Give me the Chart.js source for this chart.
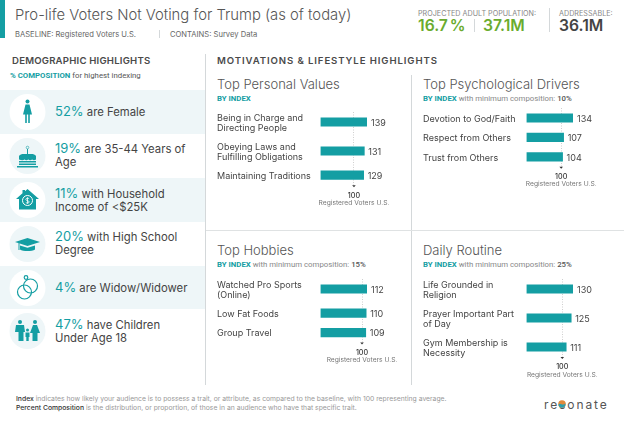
<!DOCTYPE html>
<html>
<head>
<meta charset="utf-8">
<script src="https://cdn.jsdelivr.net/npm/chart.js@4/dist/chart.umd.js"></script>
<style>
  html, body { margin: 0; padding: 0; background: #fff; }
  #page { position: relative; width: 624px; height: 425px; overflow: hidden; font-family: Inter, sans-serif; color: #444; }
  #page div, #page canvas, #page svg { position: absolute; }
  #page div { white-space: nowrap; }
  .line { background: #d4d8da; }
  .h2 { font-size: 9.6px; font-weight: 600; color: #4a4a4a; }
  .title { font-size: 13px; font-weight: 300; color: #555; }
  .sub { font: 7.8px Roboto, sans-serif; color: #888; }
  .sub b { color: #149ea3; font-weight: 700; }
  .sub i { font-style: normal; font-weight: 500; color: #555; }
  .pop { font-size: 7.2px; color: #888; }
  .big { font-size: 15.7px; font-weight: 600; word-spacing: -2px; }
  .row { font-size: 11.3px; line-height: 13px; color: #444; }
  .row span { font-size: 13px; color: #149ea3; }
  .foot { font-size: 6.8px; color: #999; }
  .foot b { color: #333; font-weight: 500; }
</style>
</head>
<body>
<div id="page">
  <div style="left:0;top:0;width:5px;height:38px;background:#149ea3"></div>
  <div style="left:15px;top:6px;font-size:14.8px;font-weight:300;color:#555">Pro-life Voters Not Voting for Trump (as of today)</div>
  <div style="left:15px;top:30px;font-size:7.6px;color:#666">BASELINE: Registered Voters U.S.</div>
  <div class="line" style="left:159px;top:30px;width:1px;height:8px"></div>
  <div style="left:170px;top:30px;font-size:7.6px;color:#666">CONTAINS: Survey Data</div>

  <div class="pop" style="left:418px;top:9px">PROJECTED ADULT POPULATION:</div>
  <div class="big" style="left:418px;top:16px;color:#6aab2e">16.7 %</div>
  <div class="line" style="left:474px;top:19px;width:1px;height:13px"></div>
  <div class="big" style="left:483px;top:16px;color:#6aab2e">37.1M</div>
  <div class="line" style="left:549px;top:8px;width:1px;height:24px"></div>
  <div class="pop" style="left:559px;top:9px">ADDRESSABLE:</div>
  <div class="big" style="left:559px;top:16px;color:#444">36.1M</div>

  <div class="h2" style="left:12px;top:54.500px;letter-spacing:.2px">DEMOGRAPHIC HIGHLIGHTS</div>
  <div class="sub" style="left:10px;top:71px"><b>% COMPOSITION</b> <span style="color:#555">for highest indexing</span></div>
  <div class="h2" style="left:217px;top:54.500px;letter-spacing:.9px">MOTIVATIONS &amp; LIFESTYLE HIGHLIGHTS</div>

  <div class="line" style="left:205px;top:54px;width:1px;height:331px"></div>
  <div class="line" style="left:411px;top:75px;width:1px;height:310px"></div>
  <div class="line" style="left:206px;top:229.500px;width:418px;height:1.500px;background:#dfe2e3"></div>

  <div style="left:0;top:90px;width:205px;height:44px;background:#eef6f8"></div>
  <div style="left:0;top:178px;width:205px;height:44px;background:#eef6f8"></div>
  <div style="left:0;top:266px;width:205px;height:43px;background:#eef6f8"></div>
  <svg style="left:0;top:90px" width="55" height="264" viewBox="0 0 55 264" fill="#149ea3">
    <circle cx="27.5" cy="22" r="18" fill="#fff"/>
    <circle cx="27.5" cy="66" r="18" fill="#eef6f8"/>
    <circle cx="27.5" cy="110" r="18" fill="#fff"/>
    <circle cx="27.5" cy="154" r="18" fill="#eef6f8"/>
    <circle cx="27.5" cy="198" r="18" fill="#fff"/>
    <circle cx="27.5" cy="241" r="18" fill="#eef6f8"/>
    <!-- female -->
    <circle cx="27.5" cy="11.5" r="2"/>
    <path d="M25.5 14.5h4l2.5 10h-2.2v8.500h-1.600v-8.500h-1.400v8.500h-1.600v-8.500H23z"/>
    <!-- cake -->
    <path d="M19 66c1-1.500 3-2 4-2h9c1 0 3 .500 4 2v3.500c-1.400 1-2.800 1-3.800 0-1.400 1-2.800 1-3.800 0-1.400 1-2.800 1-3.800 0-1.400 1-3 1-5.600 0z"/>
    <rect x="19" y="71" width="17" height="1.500"/><rect x="19" y="73.500" width="17" height="1.500"/>
    <rect x="17" y="76" width="21" height="1.500"/>
    <rect x="27" y="59" width="1" height="5"/>
    <circle cx="27.500" cy="57.500" r="1.300" fill="none" stroke="#149ea3" stroke-width=".6"/>
    <!-- house -->
    <path d="M27.500 99l11.500 10h-3v10.500H19V109h-3l6.500-5.700V100H25v1.200z"/>
    <circle cx="27.500" cy="110.500" r="5" fill="none" stroke="#fff" stroke-width="1"/>
    <path d="M29.200 108.800c-1-1-3.400-.800-3.400.600 0 1.600 3.400 1 3.400 2.500 0 1.400-2.400 1.600-3.400.600M27.500 107.300v6.400" fill="none" stroke="#fff" stroke-width=".8"/>
    <!-- grad cap -->
    <path d="M27.500 148l12.500 4-12.500 4-12.500-4z"/>
    <path d="M20 155.500v4c3 2 12 2 15 0v-4l-7.500 2.200z"/>
    <rect x="18.500" y="153" width="1" height="7"/>
    <!-- rings -->
    <g fill="none" stroke="#149ea3" stroke-width="1.200">
      <circle cx="24.500" cy="202" r="7"/><circle cx="30.500" cy="196" r="7"/>
      <circle cx="26" cy="187.500" r="1.800"/>
    </g>
    <!-- family -->
    <circle cx="20" cy="232" r="2"/><path d="M16 235h8l1 7h-1.500v9h-5v-9H15z"/>
    <circle cx="35" cy="232" r="2"/><path d="M33 235h4l3 8h-2.500v8h-5v-8H30z"/>
    <circle cx="27.500" cy="240" r="1.500"/><path d="M25.500 242.500h4v4.500h-.8v4h-2.400v-4h-.8z"/>
  </svg>
  <div class="row" style="left:55px;top:105px"><span>52%</span> are Female</div>
  <div class="row" style="left:55px;top:142px"><span>19%</span> are 35-44 Years of<br>Age</div>
  <div class="row" style="left:55px;top:187px"><span>11%</span> with Household<br>Income of &lt;$25K</div>
  <div class="row" style="left:55px;top:230px"><span>20%</span> with High School<br>Degree</div>
  <div class="row" style="left:55px;top:281px"><span>4%</span> are Widow/Widower</div>
  <div class="row" style="left:55px;top:318px"><span>47%</span> have Children<br>Under Age 18</div>

  <div class="title" style="left:217px;top:75.500px">Top Personal Values</div>
  <div class="sub" style="left:217px;top:94px"><b>BY INDEX</b></div>
  <div class="title" style="left:423px;top:75.500px">Top Psychological Drivers</div>
  <div class="sub" style="left:423px;top:94px"><b>BY INDEX</b> with minimum composition: <i>10%</i></div>
  <div class="title" style="left:217px;top:241.500px">Top Hobbies</div>
  <div class="sub" style="left:217px;top:260px"><b>BY INDEX</b> with minimum composition: <i>15%</i></div>
  <div class="title" style="left:423px;top:241.500px">Daily Routine</div>
  <div class="sub" style="left:423px;top:260px"><b>BY INDEX</b> with minimum composition: <i>25%</i></div>

  <canvas id="values"></canvas>
  <canvas id="drivers"></canvas>
  <canvas id="hobbies"></canvas>
  <canvas id="routine"></canvas>

  <div class="foot" style="left:16px;top:394px"><b>Index</b> indicates how likely your audience is to possess a trait, or attribute, as compared to the baseline, with 100 representing average.</div>
  <div class="foot" style="left:16px;top:403px"><b>Percent Composition</b> is the distribution, or proportion, of those in an audience who have that specific trait.</div>
  <div style="left:544px;top:397px;font-size:12px;letter-spacing:1.900px;color:#555">resonate</div>
  <svg style="left:558px;top:400px" width="8" height="8" viewBox="0 0 8 8">
    <circle cx="4" cy="4" r="3.800" fill="#e08a3c"/>
    <path d="M.5 4.500C2 2 5 6.500 7.500 3.500 7.600 6 6 7.800 4 7.800S.6 6.500.5 4.500z" fill="#2b9fb0"/>
  </svg>
</div>

<script>
const baseline = 100;
const baselineLabel = 'Registered Voters U.S.';

const valuesLabels = [['Being in Charge and', 'Directing People'], ['Obeying Laws and', 'Fulfilling Obligations'], ['Maintaining Traditions']];
const valuesData = [139, 131, 129];

const driversLabels = [['Devotion to God/Faith'], ['Respect from Others'], ['Trust from Others']];
const driversData = [134, 107, 104];

const hobbiesLabels = [['Watched Pro Sports', '(Online)'], ['Low Fat Foods'], ['Group Travel']];
const hobbiesData = [112, 110, 109];

const routineLabels = [['Life Grounded in', 'Religion'], ['Prayer Important Part', 'of Day'], ['Gym Membership is', 'Necessity']];
const routineData = [130, 125, 111];

const TEAL = '#149ea3';
const EDGE = 10;      // space above first bar / below last bar
const ONE_LINE = 19.4;
const PER_LINE = 9.6;
const AXIS_H = 24;
const LABEL_W = 103.5;
const BAR_W = 46.5;
const CANVAS_W = 190;

// rows get taller when their label wraps, so the bars aren't evenly spaced
function rowGap(labels, i) {
  const extra = labels[i - 1].length + labels[i].length - 2;
  return ONE_LINE + extra * PER_LINE / 2;
}

class RowScale extends Chart.CategoryScale {
  getPixelForValue(value) {
    const labels = this.getLabels();
    let y = this.top + EDGE;
    for (let i = 1; i <= value; i++) y += rowGap(labels, i);
    return y;
  }
}
RowScale.id = 'rows';
RowScale.defaults = Chart.CategoryScale.defaults;
Chart.register(RowScale);

const indexMarks = {
  id: 'indexMarks',
  afterDatasetsDraw(chart) {
    const { ctx, scales } = chart;
    const meta = chart.getDatasetMeta(0);
    ctx.save();
    ctx.fillStyle = '#444';
    ctx.font = '9px Inter';
    ctx.textBaseline = 'middle';
    chart.data.datasets[0].data.forEach((v, i) => {
      const bar = meta.data[i];
      ctx.fillText(v, bar.x + 4, bar.y + 1);
    });
    // little arrow under the baseline and the baseline's name
    const x = scales.x.getPixelForValue(baseline);
    const y = scales.x.top;
    ctx.fillStyle = '#333';
    ctx.beginPath();
    ctx.moveTo(x - 1.8, y);
    ctx.lineTo(x + 1.8, y);
    ctx.lineTo(x, y + 2);
    ctx.fill();
    ctx.fillStyle = '#777';
    ctx.font = '6.7px Inter';
    ctx.textAlign = 'center';
    ctx.fillText(baselineLabel, x, y + 17.5);
    ctx.restore();
  }
};

function noPadding(axis) {
  axis.paddingTop = axis.paddingBottom = axis.paddingLeft = axis.paddingRight = 0;
}

function drawPanel(id, labels, data, left, firstBarY) {
  const canvas = document.getElementById(id);
  let plotH = EDGE * 2;
  for (let i = 1; i < labels.length; i++) plotH += rowGap(labels, i);
  const height = Math.round(plotH + AXIS_H);
  canvas.style.left = left + 'px';
  canvas.style.top = (firstBarY - EDGE) + 'px';
  canvas.width = CANVAS_W;
  canvas.height = height;

  new Chart(canvas, {
    type: 'bar',
    data: {
      labels: labels,
      datasets: [{ data: data, backgroundColor: TEAL, barThickness: 8.5 }]
    },
    options: {
      indexAxis: 'y',
      responsive: false,
      animation: false,
      layout: { padding: { right: CANVAS_W - LABEL_W - BAR_W } },
      plugins: { legend: { display: false }, tooltip: { enabled: false } },
      scales: {
        y: {
          type: 'rows',
          grid: { display: false },
          border: { display: false },
          afterFit(axis) { axis.width = LABEL_W; noPadding(axis); },
          ticks: {
            crossAlign: 'far',
            autoSkip: false,
            padding: 0,
            labelOffset: 1,
            color: '#444',
            font: { family: 'Inter', size: 9, lineHeight: 1.1 }
          }
        },
        x: {
          min: 0,
          max: Math.max(...data),
          afterFit(axis) { axis.height = height - plotH; noPadding(axis); },
          afterBuildTicks(axis) { axis.ticks = [{ value: baseline }]; },
          grid: { color: '#cfcfcf', drawTicks: false },
          border: { display: false, dash: [1, 1.5] },
          ticks: { padding: 6, color: '#333', maxRotation: 0, font: { family: 'Inter', size: 7.2, weight: 500 } }
        }
      }
    },
    plugins: [indexMarks]
  });
}

drawPanel('values', valuesLabels, valuesData, 217.3, 121.7);
drawPanel('drivers', driversLabels, driversData, 423.2, 118.3);
drawPanel('hobbies', hobbiesLabels, hobbiesData, 217.3, 288.7);
drawPanel('routine', routineLabels, routineData, 423.2, 288.7);
</script>
</body>
</html>
